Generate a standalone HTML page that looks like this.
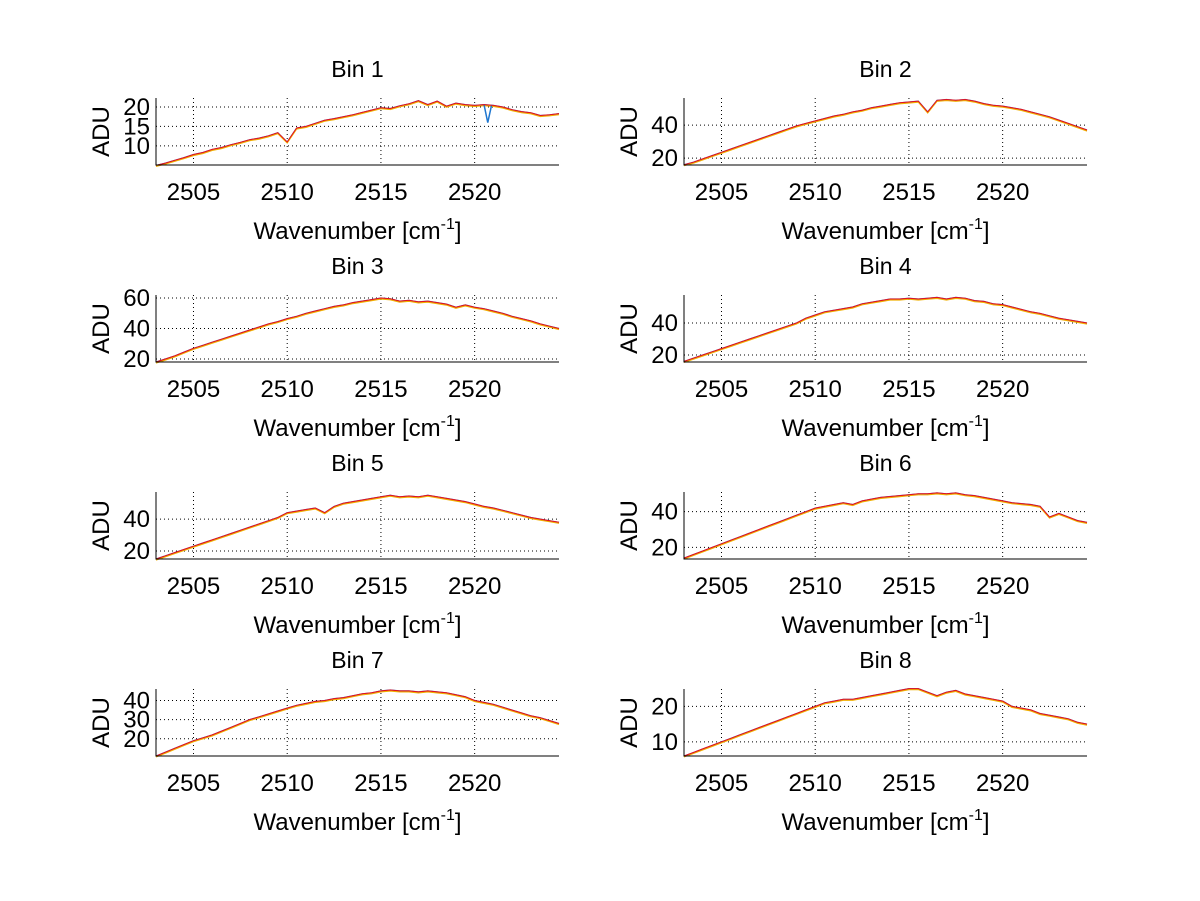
<!DOCTYPE html>
<html><head><meta charset="utf-8"><style>
html,body{margin:0;padding:0;background:#fff;}
svg{display:block;font-family:"Liberation Sans",sans-serif;}
</style></head><body>
<svg id="fig" width="1200" height="901" viewBox="0 0 1200 901">
<rect width="1200" height="901" fill="#fff"/>
</svg>
<script>
const xStart = 2503, xStep = 0.5, xMin = 2503, xMax = 2524.5;
const xTicks = [2505, 2510, 2515, 2520];
const binTitles = ["Bin 1","Bin 2","Bin 3","Bin 4","Bin 5","Bin 6","Bin 7","Bin 8"];
const yLims = [[5.1,22.3],[15.8,56.4],[18,62],[15.6,57.5],[15,57],[13.5,51],[11,46],[6,24.9]];
const yTicks = [[10,15,20],[20,40],[20,40,60],[20,40],[20,40],[20,40],[20,30,40],[10,20]];
const bin1 = [5.0,5.6,6.3,7.0,7.8,8.3,9.1,9.6,10.3,10.9,11.6,12.0,12.6,13.4,11.0,14.6,15.0,15.8,16.6,17.0,17.5,18.0,18.6,19.2,19.8,19.6,20.3,20.8,21.6,20.6,21.5,20.2,21.0,20.6,20.4,20.6,20.4,20.0,19.3,18.8,18.5,17.8,18.0,18.3];
const bin2 = [16,17.5,19.5,21.5,23.5,25.5,27.5,29.5,31.5,33.5,35.5,37.5,39.5,41,42.5,44,45.5,46.5,48,49,50.5,51.5,52.5,53.5,54,54.5,48,55,55.5,55,55.5,54.5,53,52,51.5,50.5,49.5,48,46.5,45,43,41,39,37];
const bin3 = [18,20,22,24.5,27,29,31,33,35,37,39,41,43,44.5,46.5,48,50,51.5,53,54.5,55.5,57,58,59,60,59.5,58,58.5,57.5,58,57,56,54,55.5,54,53,51.5,50,48,46.5,45,43,41.5,40];
const bin4 = [16,18,20,22,24,26,28,30,32,34,36,38,40,43,45,47,48,49,50,52,53,54,55,55,55.5,55,55.5,56,55,56,55.5,54,53.5,52,51.5,50,48.5,47,46,44.5,43,42,41,40];
const bin5 = [15,17,19,21,23,25,27,29,31,33,35,37,39,41,44,45,46,47,44,48,50,51,52,53,54,55,54,54.5,54,55,54,53,52,51,49.5,48,47,45.5,44,42.5,41,40,39,38];
const bin6 = [14,16,18,20,22,24,26,28,30,32,34,36,38,40,42,43,44,45,44,46,47,48,48.5,49,49.5,50,50,50.5,50,50.5,49.5,49,48,47,46,45,44.5,44,43,37,39,37,35,34];
const bin7 = [11,13,15,17,19,20.5,22,24,26,28,30,31.5,33,34.5,36,37.5,38.5,39.5,40,41,41.5,42.5,43.5,44,45,45.5,45,45,44.5,45,44.5,44,43,42,40,39,38,36.5,35,33.5,32,31,29.5,28];
const bin8 = [6,7,8,9,10,11,12,13,14,15,16,17,18,19,20,21,21.5,22,22,22.5,23,23.5,24,24.5,25,25,24,23,24,24.5,23.5,23,22.5,22,21.5,20,19.5,19,18,17.5,17,16.5,15.5,15];
const bin1BlueSpikeX = [2520.5, 2520.7, 2520.9];
const bin1BlueSpikeY = [20.6, 16.0, 20.4];
const series = [bin1,bin2,bin3,bin4,bin5,bin6,bin7,bin8];

const NS = "http://www.w3.org/2000/svg";
const svg = document.getElementById("fig");
const colLeft = [156, 684], W = 403, rowTop = [98, 295, 492, 689], H = 67;
function mk(tag, attrs, parent){const e=document.createElementNS(NS,tag);for(const k in attrs)e.setAttribute(k,attrs[k]);(parent||svg).appendChild(e);return e;}

series.forEach((vals, i) => {
  const L = colLeft[i % 2], T = rowTop[Math.floor(i / 2)], B = T + H, R = L + W;
  const [y0, y1] = yLims[i];
  const xs = v => L + (v - xMin) / (xMax - xMin) * W;
  const ys = v => B - (v - y0) / (y1 - y0) * H;
  const g = mk("g", {});
  
  
  xTicks.forEach(t => {
    const gl = mk("line", {x1: xs(t), x2: xs(t), y1: T, y2: B, stroke: "#000", "stroke-width": 1, "stroke-dasharray": "1,3"}, g);
    
    
    const tk = mk("text", {x: xs(t), y: B + 35, "text-anchor": "middle", "font-size": 24}, g);
    tk.textContent = t;
    
    
  });
  yTicks[i].forEach(t => {
    const gl = mk("line", {x1: L, x2: R, y1: ys(t), y2: ys(t), stroke: "#000", "stroke-width": 1, "stroke-dasharray": "1,3"}, g);
    
    
    const tk = mk("text", {x: L - 6, y: ys(t) + 8, "text-anchor": "end", "font-size": 24}, g);
    tk.textContent = t;
    
    
  });
  const ptsArr = vals.map((v, k) => xs(xStart + k * xStep).toFixed(1) + "," + ys(v).toFixed(1));
  const blue = mk("polyline", {points: ptsArr.join(" "), fill: "none", stroke: "#3a6fc8", "stroke-width": 1.2}, g);
  
  
  const orange = mk("polyline", {points: ptsArr.join(" "), fill: "none", stroke: "#f0b000", "stroke-width": 1.2, transform: "translate(0,1)"}, g);
  
  
  if (i === 0) {
    const sp = bin1BlueSpikeX.map((x, k) => xs(x) + "," + ys(bin1BlueSpikeY[k])).join(" ");
    const spike = mk("polyline", {points: sp, fill: "none", stroke: "#1f77d0", "stroke-width": 1.5}, g);
    
    
  }
  const red = mk("polyline", {points: ptsArr.join(" "), fill: "none", stroke: "#e8101a", "stroke-width": 1}, g);
  
  
  const ax = mk("path", {d: `M${L},${T} L${L},${B} L${R},${B}`, fill: "none", stroke: "#000", "stroke-width": 1}, g);
  
  
  const title = mk("text", {x: L + W / 2, y: T - 21, "text-anchor": "middle", "font-size": 23}, g);
  title.textContent = binTitles[i];
  
  
  const xl = mk("text", {x: L + W / 2, y: B + 74, "text-anchor": "middle", "font-size": 24}, g);
  xl.innerHTML = 'Wavenumber [cm<tspan dy="-10" font-size="16">-1</tspan><tspan dy="10">]</tspan>';
  
  
  const yl = mk("text", {x: 0, y: 0, "text-anchor": "middle", "font-size": 24, transform: `translate(${L - 47},${T + H / 2}) rotate(-90)`}, g);
  yl.textContent = "ADU";
  
  
});
</script>
</body></html>
